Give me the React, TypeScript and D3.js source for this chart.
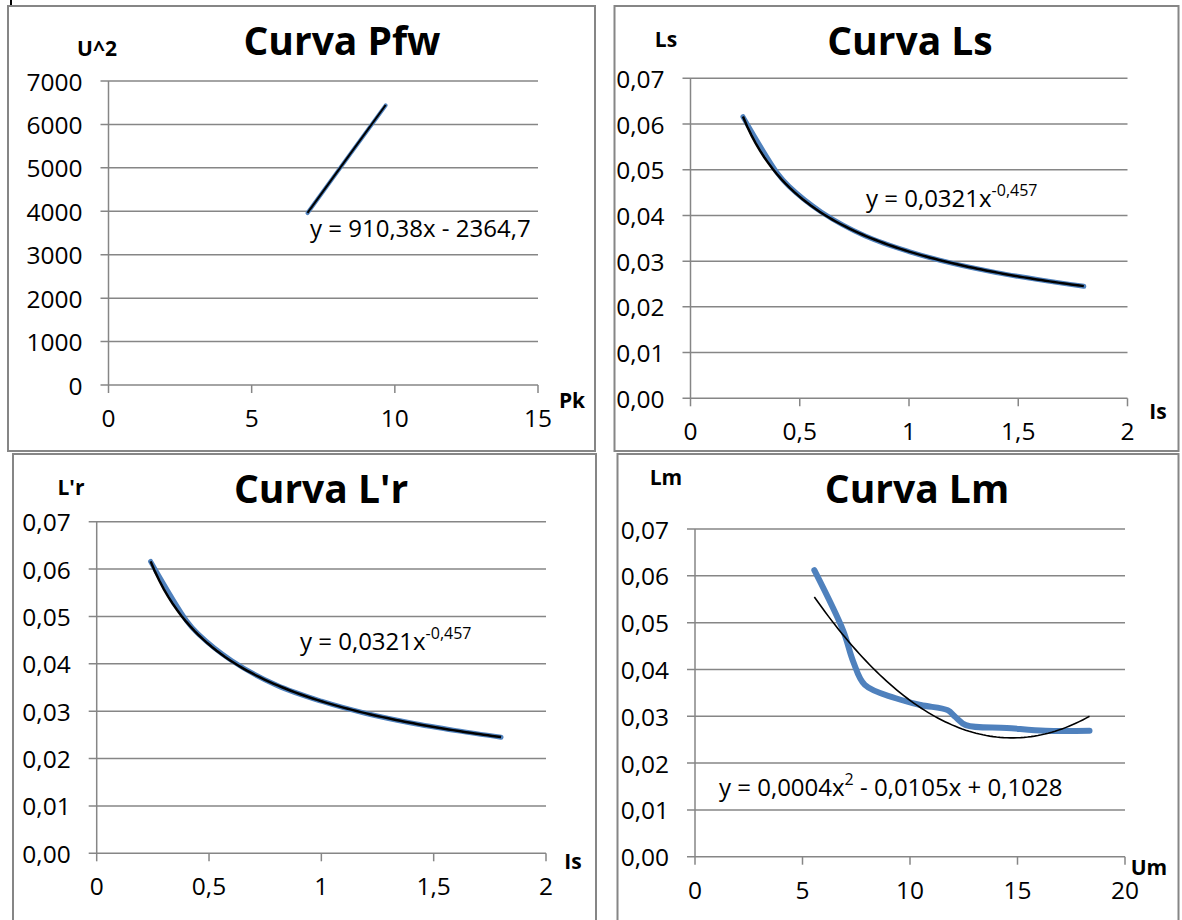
import React from 'react';
import * as d3 from 'd3';

// Curva Pfw: U^2 against Pk
const pfwPk = [6.95, 8.3, 9.68];
const pfwU2 = [3960, 5190, 6440];

// Curva Ls: Ls against Is
const lsIs = [0.24, 0.4, 0.45, 0.6, 0.8, 1.0, 1.2, 1.4, 1.6, 1.8];
const lsLs = [0.0616, 0.0491, 0.0464, 0.0407, 0.0355, 0.0321, 0.0295, 0.0275, 0.0259, 0.0245];

// Curva L'r: L'r against Is
const lrIs = [0.24, 0.4, 0.45, 0.6, 0.8, 1.0, 1.2, 1.4, 1.6, 1.8];
const lrLr = [0.0616, 0.0491, 0.0464, 0.0407, 0.0355, 0.0321, 0.0295, 0.0275, 0.0259, 0.0245];

// Curva Lm: Lm against Um
const lmUm = [5.55, 6.9, 7.35, 7.9, 9.3, 10.5, 11.75, 12.1, 12.6, 14.5, 16.3, 18.35];
const lmLm = [0.0612, 0.0482, 0.0418, 0.0367, 0.0339, 0.0324, 0.0313, 0.0299, 0.0281, 0.0275, 0.0269, 0.0269];

// tick values
const u2Ticks = [0, 1000, 2000, 3000, 4000, 5000, 6000, 7000];
const pkTicks = [0, 5, 10, 15];
const lTicks = [0, 0.01, 0.02, 0.03, 0.04, 0.05, 0.06, 0.07];
const isTicks = [0, 0.5, 1, 1.5, 2];
const umTicks = [0, 5, 10, 15, 20];

// trendline coefficients (as shown in the labels, Lm kept unrounded)
const pfwTrend = { a: 910.38, b: -2364.7 };
const powTrend = { c: 0.0321, p: -0.457 };
const lmTrend = { a: 0.000356, b: -0.0105, c: 0.1028 };

const GRID = '#868686';
const BLUE = '#4F81BD';
const FONT = "'Open Sans', sans-serif";

const comma = (d: number, digits?: number) =>
  (digits != null ? d.toFixed(digits) : String(d)).replace('.', ',');

function sample(lo: number, hi: number, n: number, f: (x: number) => number) {
  const pts: [number, number][] = [];
  for (let i = 0; i <= n; i++) {
    const x = lo + ((hi - lo) * i) / n;
    pts.push([x, f(x)]);
  }
  return pts;
}

type PanelProps = {
  frame: [number, number, number, number];
  xRange: [number, number];
  yRange: [number, number];
  xDomain: [number, number];
  yDomain: [number, number];
  xTicks: number[];
  yTicks: number[];
  fmtX: (d: number) => string;
  fmtY: (d: number) => string;
  title: string;
  titlePos: [number, number];
  yTitle: string;
  yTitlePos: [number, number];
  xTitle: string;
  xTitlePos: [number, number];
  eq: React.ReactNode;
  eqPos: [number, number];
  xs: number[];
  ys: number[];
  smooth: boolean;
  trend: [number, number][];
  blueW: number;
  trendW: number;
};

function Panel(p: PanelProps) {
  const x = d3.scaleLinear().domain(p.xDomain).range(p.xRange);
  const y = d3.scaleLinear().domain(p.yDomain).range(p.yRange);
  const pts: [number, number][] = p.xs.map((v, i) => [v, p.ys[i]]);
  const line = d3
    .line<[number, number]>()
    .x((d) => x(d[0]))
    .y((d) => y(d[1]))
    .curve(p.smooth ? d3.curveCatmullRom.alpha(0.5) : d3.curveLinear);
  const [fx, fy, fw, fh] = p.frame;
  const x0 = p.xRange[0];
  const x1 = p.xRange[1];
  const yb = p.yRange[0];
  return (
    <g>
      <rect x={fx} y={fy} width={fw} height={fh} fill="white" stroke={GRID} strokeWidth={2} />
      {p.yTicks.map((t) => (
        <g key={'y' + t}>
          <line x1={x0 - 8} x2={x1} y1={y(t)} y2={y(t)} stroke={GRID} strokeWidth={1.5} />
          <text x={x0 - 26} y={y(t)} textAnchor="end" dominantBaseline="central" fontSize={24.5} fontFamily={FONT} fill="#000">
            {p.fmtY(t)}
          </text>
        </g>
      ))}
      <line x1={x0} x2={x0} y1={p.yRange[1]} y2={yb} stroke={GRID} strokeWidth={1.5} />
      {p.xTicks.map((t) => (
        <g key={'x' + t}>
          <line x1={x(t)} x2={x(t)} y1={yb} y2={yb + 8} stroke={GRID} strokeWidth={1.5} />
          <text x={x(t)} y={yb + 42} textAnchor="middle" fontSize={24.5} fontFamily={FONT} fill="#000">
            {p.fmtX(t)}
          </text>
        </g>
      ))}
      <path d={line(pts) || ''} fill="none" stroke={BLUE} strokeWidth={p.blueW} strokeLinecap="round" strokeLinejoin="round" />
      <path
        d={d3.line<[number, number]>().x((d) => x(d[0])).y((d) => y(d[1]))(p.trend) || ''}
        fill="none"
        stroke="#000"
        strokeWidth={p.trendW}
      />
      <text x={p.titlePos[0]} y={p.titlePos[1]} textAnchor="middle" fontSize={39} fontWeight="bold" fontFamily={FONT}>
        {p.title}
      </text>
      <text x={p.yTitlePos[0]} y={p.yTitlePos[1]} textAnchor="middle" fontSize={21} fontWeight="bold" fontFamily={FONT}>
        {p.yTitle}
      </text>
      <text x={p.xTitlePos[0]} y={p.xTitlePos[1]} textAnchor="middle" fontSize={21} fontWeight="bold" fontFamily={FONT}>
        {p.xTitle}
      </text>
      <text x={p.eqPos[0]} y={p.eqPos[1]} fontSize={24} fontFamily={FONT}>
        {p.eq}
      </text>
    </g>
  );
}

const powEq = (
  <>
    y = 0,0321x
    <tspan fontSize={16} dy={-11}>-0,457</tspan>
  </>
);

export default function App() {
  const powFn = (v: number) => powTrend.c * Math.pow(v, powTrend.p);
  return (
    <div style={{ position: 'absolute', left: 0, top: 0 }}>
      <svg width={1182} height={920} style={{ display: 'block', background: 'white' }}>
        <line x1={11} x2={11} y1={0} y2={5} stroke="#000" strokeWidth={2} />
        <Panel
          frame={[8, 6, 587, 445]}
          xRange={[108.5, 538]}
          yRange={[385, 81]}
          xDomain={[0, 15]}
          yDomain={[0, 7000]}
          xTicks={pkTicks}
          yTicks={u2Ticks}
          fmtX={(d) => String(d)}
          fmtY={(d) => String(d)}
          title="Curva Pfw"
          titlePos={[342, 55]}
          yTitle="U^2"
          yTitlePos={[97, 56]}
          xTitle="Pk"
          xTitlePos={[572, 408]}
          eq="y = 910,38x - 2364,7"
          eqPos={[310, 237]}
          xs={pfwPk}
          ys={pfwU2}
          smooth={false}
          trend={sample(pfwPk[0], pfwPk[pfwPk.length - 1], 2, (v) => pfwTrend.a * v + pfwTrend.b)}
          blueW={4}
          trendW={2}
        />
        <Panel
          frame={[614.5, 6, 564, 445]}
          xRange={[690.5, 1127.5]}
          yRange={[398.3, 78.3]}
          xDomain={[0, 2]}
          yDomain={[0, 0.07]}
          xTicks={isTicks}
          yTicks={lTicks}
          fmtX={(d) => comma(d)}
          fmtY={(d) => comma(d, 2)}
          title="Curva Ls"
          titlePos={[910, 55]}
          yTitle="Ls"
          yTitlePos={[666, 47]}
          xTitle="Is"
          xTitlePos={[1158, 419]}
          eq={powEq}
          eqPos={[866, 207]}
          xs={lsIs}
          ys={lsLs}
          smooth={true}
          trend={sample(0.24, 1.8, 80, powFn)}
          blueW={5}
          trendW={2.5}
        />
        <Panel
          frame={[13, 454, 583, 480]}
          xRange={[96.7, 546]}
          yRange={[853.3, 521.7]}
          xDomain={[0, 2]}
          yDomain={[0, 0.07]}
          xTicks={isTicks}
          yTicks={lTicks}
          fmtX={(d) => comma(d)}
          fmtY={(d) => comma(d, 2)}
          title="Curva L'r"
          titlePos={[321, 503]}
          yTitle="L'r"
          yTitlePos={[71, 495]}
          xTitle="Is"
          xTitlePos={[573, 869]}
          eq={powEq}
          eqPos={[300, 650]}
          xs={lrIs}
          ys={lrLr}
          smooth={true}
          trend={sample(0.24, 1.8, 80, powFn)}
          blueW={5}
          trendW={2.5}
        />
        <Panel
          frame={[617.5, 454, 561, 480]}
          xRange={[695, 1125]}
          yRange={[856.7, 529]}
          xDomain={[0, 20]}
          yDomain={[0, 0.07]}
          xTicks={umTicks}
          yTicks={lTicks}
          fmtX={(d) => String(d)}
          fmtY={(d) => comma(d, 2)}
          title="Curva Lm"
          titlePos={[917, 503]}
          yTitle="Lm"
          yTitlePos={[666, 485]}
          xTitle="Um"
          xTitlePos={[1149, 875]}
          eq={
            <>
              y = 0,0004x
              <tspan fontSize={16} dy={-11}>2</tspan>
              <tspan dy={11}> - 0,0105x + 0,1028</tspan>
            </>
          }
          eqPos={[719, 796]}
          xs={lmUm}
          ys={lmLm}
          smooth={true}
          trend={sample(5.55, 18.35, 80, (v) => lmTrend.a * v * v + lmTrend.b * v + lmTrend.c)}
          blueW={6}
          trendW={1.6}
        />
      </svg>
    </div>
  );
}
